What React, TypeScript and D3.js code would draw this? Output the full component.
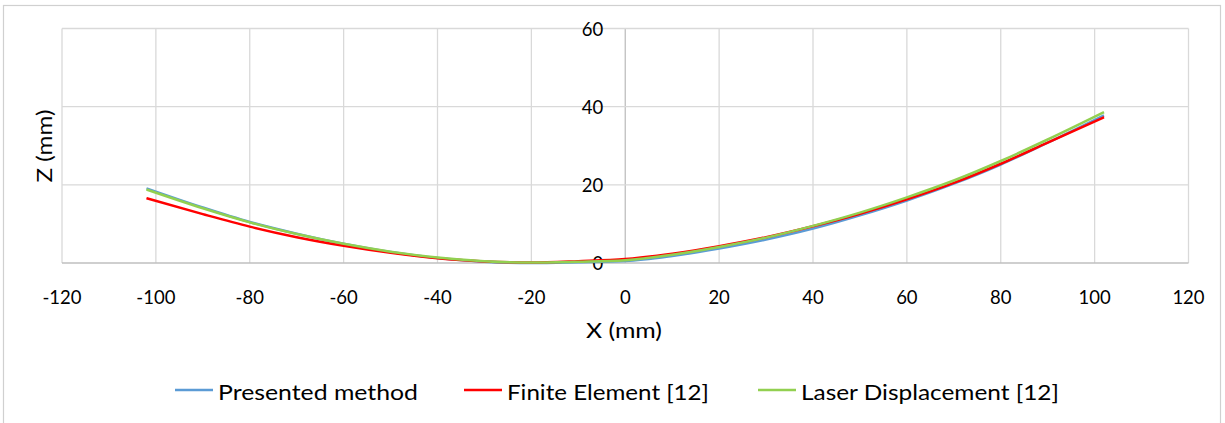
import React, { useEffect, useRef } from 'react';
import * as d3 from 'd3';

const xs = [-102, -90, -80, -70, -60, -50, -40, -30, -20, -10, 0, 10, 20, 30, 40, 50, 60, 70, 80, 90, 102];
const presented = [19.1, 14.2, 10.5, 7.5, 4.9, 2.8, 1.3, 0.35, 0, 0.2, 0.5, 1.8, 3.7, 6.0, 8.8, 12.2, 16.0, 20.3, 25.2, 30.8, 37.8];
const finiteElement = [16.6, 12.5, 9.3, 6.6, 4.4, 2.6, 1.2, 0.4, 0.1, 0.45, 1.0, 2.4, 4.3, 6.6, 9.4, 12.6, 16.3, 20.5, 25.4, 30.8, 37.3];
const laser = [18.8, 14.0, 10.4, 7.4, 4.9, 2.9, 1.4, 0.45, 0.1, 0.3, 0.7, 2.1, 4.1, 6.5, 9.5, 12.9, 16.8, 21.1, 26.1, 31.6, 38.6];
const seriesNames = ['Presented method', 'Finite Element [12]', 'Laser Displacement [12]'];
const seriesColors = ['#5B9BD5', '#FF0000', '#92D050'];
const xTicks = [-120, -100, -80, -60, -40, -20, 0, 20, 40, 60, 80, 100, 120];
const yTicks = [0, 20, 40, 60];

const W = 1225, H = 423;
const font = 'Lato, "Open Sans", sans-serif';

export default function App() {
  const ref = useRef<SVGSVGElement>(null);

  useEffect(() => {
    document.body.style.margin = '0';
    const svg = d3.select(ref.current);
    svg.selectAll('*').remove();

    const x = d3.scaleLinear().domain([-120, 120]).range([62, 1188.5]);
    const y = d3.scaleLinear().domain([0, 60]).range([263, 28.5]);

    // chart border
    svg.append('rect')
      .attr('x', 3.5).attr('y', 5.5).attr('width', 1217).attr('height', 430)
      .attr('fill', '#fff').attr('stroke', '#d0d0d0').attr('stroke-width', 1.2);

    // gridlines
    svg.append('g').selectAll('line').data(xTicks).join('line')
      .attr('x1', d => x(d)).attr('x2', d => x(d))
      .attr('y1', y(0)).attr('y2', y(60))
      .attr('stroke', d => (d === 0 ? '#bfbfbf' : '#d9d9d9')).attr('stroke-width', 1.3);
    svg.append('g').selectAll('line').data(yTicks).join('line')
      .attr('x1', x(-120)).attr('x2', x(120))
      .attr('y1', d => y(d)).attr('y2', d => y(d))
      .attr('stroke', d => (d === 0 ? '#bfbfbf' : '#d9d9d9')).attr('stroke-width', 1.3);

    // tick labels
    svg.append('g').selectAll('text').data(xTicks).join('text')
      .attr('x', d => x(d)).attr('y', 297)
      .attr('text-anchor', 'middle').attr('dominant-baseline', 'central')
      .style('font-family', font).style('font-size', '18.5px').attr('fill', '#000')
      .text(d => String(d));
    svg.append('g').selectAll('text').data(yTicks).join('text')
      .attr('x', x(0) - 22).attr('y', d => y(d))
      .attr('text-anchor', 'end').attr('dominant-baseline', 'central')
      .style('font-family', font).style('font-size', '18.5px').attr('fill', '#000')
      .text(d => String(d));

    // axis titles
    svg.append('text')
      .attr('x', 624).attr('y', 329)
      .attr('text-anchor', 'middle').attr('dominant-baseline', 'central')
      .attr('textLength', 76).attr('lengthAdjust', 'spacingAndGlyphs')
      .style('font-family', font).style('font-size', '22px')
      .text('X (mm)');
    svg.append('text')
      .attr('transform', 'translate(43,146) rotate(-90)')
      .attr('text-anchor', 'middle').attr('dominant-baseline', 'central')
      .attr('textLength', 73).attr('lengthAdjust', 'spacingAndGlyphs')
      .style('font-family', font).style('font-size', '22px')
      .text('Z (mm)');

    // lines
    const all = [presented, finiteElement, laser];
    const line = d3.line<number>()
      .x((_, i) => x(xs[i]))
      .y(d => y(d))
      .curve(d3.curveMonotoneX);
    svg.append('g').selectAll('path').data(all).join('path')
      .attr('d', d => line(d))
      .attr('fill', 'none')
      .attr('stroke', (_, i) => seriesColors[i])
      .attr('stroke-width', 2.5)
      .attr('stroke-linejoin', 'round');

    // legend
    const legX = [175, 464, 758];
    const legW = [200, 202, 258];
    const leg = svg.append('g').selectAll('g').data(seriesNames).join('g')
      .attr('transform', (_, i) => `translate(${legX[i]},390)`);
    leg.append('line')
      .attr('x1', 0).attr('x2', 38).attr('y1', 0).attr('y2', 0)
      .attr('stroke', (_, i) => seriesColors[i]).attr('stroke-width', 2.5);
    leg.append('text')
      .attr('x', 43).attr('y', 1).attr('dominant-baseline', 'central')
      .attr('textLength', (_, i) => legW[i]).attr('lengthAdjust', 'spacingAndGlyphs')
      .style('font-family', font).style('font-size', '22px')
      .text(d => d);
  }, []);

  return <svg ref={ref} width={W} height={H} style={{ display: 'block' }} />;
}
